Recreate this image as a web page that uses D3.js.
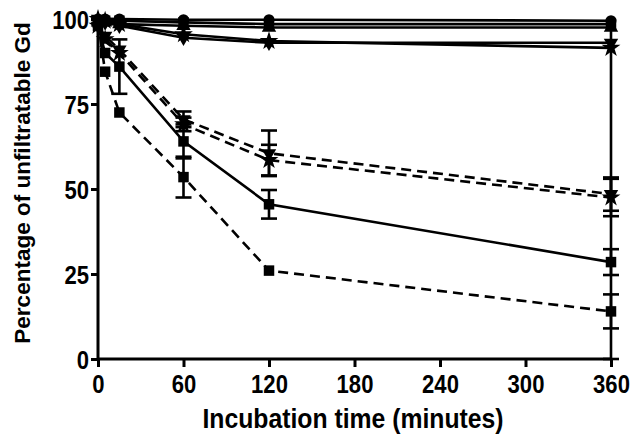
<!DOCTYPE html>
<html><head><meta charset="utf-8">
<script src="https://cdn.jsdelivr.net/npm/d3@7"></script>
<style>body{margin:0;background:#fff}svg{display:block}</style>
</head><body>
<script>
const times = [0, 5, 15, 60, 120, 360];
const xTicks = [0, 60, 120, 180, 240, 300, 360];
const yTicks = [0, 25, 50, 75, 100];

const circleSolid   = [100, 100, 100, 99.8, 99.8, 99.5];
const squareSolidHi = [99, 99.5, 99.5, 99, 98.5, 98.5];
const triUpSolid    = [99, 99, 98.5, 98, 97.5, 97.5];
const triDownSolid  = [100, 99, 98, 94.5, 93, 93];
const starSolid     = [100, 99.5, 98.5, 95.5, 93.5, 91.5];
const triDownDash   = [98, 95, 91, 70.5, 60.5, 48.5];
const starDash      = [98, 94, 90, 69, 58.5, 47.5];
const squareSolidLo = [98, 90, 86, 64, 45.5, 28.5];
const squareDash    = [99, 84.5, 72.5, 53.5, 26, 14];

const errTriDownDash   = [0, 0, 0, 2.3, 6.7, 4.9];
const errStarDash      = [0, 0, 0, 2, 4.5, 5.5];
const errSquareSolidLo = [0, 0, 8, 5, 4.2, 3.8];
const errSquareDash    = [0, 0, 0, 6, 0, 5];
const errStarSolid     = [0, 0, 0, 0, 0, 91.5];

const series = [
  {v: circleSolid, e: null, sym: "circle", dash: false},
  {v: squareSolidHi, e: null, sym: "square", dash: false},
  {v: triUpSolid, e: null, sym: "triUp", dash: false},
  {v: triDownSolid, e: null, sym: "triDown", dash: false},
  {v: starSolid, e: errStarSolid, sym: "star", dash: false},
  {v: triDownDash, e: errTriDownDash, sym: "triDown", dash: true},
  {v: starDash, e: errStarDash, sym: "star", dash: true},
  {v: squareSolidLo, e: errSquareSolidLo, sym: "square", dash: false},
  {v: squareDash, e: errSquareDash, sym: "square", dash: true}
];

const W = 639, H = 447;
const svg = d3.select("body").append("svg").attr("width", W).attr("height", H);
const x = d3.scaleLinear().domain([0, 360]).range([98, 611]);
const y = d3.scaleLinear().domain([0, 100]).range([359, 19]);
const font = "'Liberation Sans', Arial, sans-serif";
const SX = 0.96, SY = 1.1;

// axes
const xAxis = svg.append("g").attr("transform", `translate(0,${y(0)})`)
  .call(d3.axisBottom(x).tickValues(xTicks).tickSize(8).tickSizeOuter(0));
const yAxis = svg.append("g").attr("transform", `translate(${x(0)},0)`)
  .call(d3.axisLeft(y).tickValues(yTicks).tickSize(7).tickSizeOuter(0));
[xAxis, yAxis].forEach(g => {
  g.selectAll("path, line").attr("stroke", "#000").attr("stroke-width", 3);
  g.selectAll("text").attr("fill", "#000").attr("font-family", font)
    .attr("font-weight", "bold").attr("font-size", 23)
    .attr("transform", `scale(${SX},${SY})`);
});
xAxis.select(".domain").attr("d", `M${x(0)},0H${x(360)}`);
yAxis.select(".domain").attr("d", `M0,${y(0)}V${y(100)}`);
xAxis.selectAll("text").attr("x", 0).attr("y", 16 / SY).attr("dy", "0.72em");
yAxis.selectAll("text").attr("x", -9 / SX).attr("y", 0).attr("dy", "0.36em");

svg.append("text").attr("transform", `translate(353,428) scale(0.99,1.1)`).attr("text-anchor", "middle")
  .attr("font-family", font).attr("font-weight", "bold").attr("font-size", 25)
  .text("Incubation time (minutes)");
svg.append("text").attr("transform", `translate(30,${(y(0)+y(100))/2 - 6}) rotate(-90)`)
  .attr("text-anchor", "middle").attr("font-family", font).attr("font-weight", "bold")
  .attr("font-size", 22.5).text("Percentage of unfiltratable Gd");

const line = d3.line().x(d => x(d[0])).y(d => y(d[1]));
const symbols = {
  circle: d3.symbol(d3.symbolCircle, 95),
  square: d3.symbol(d3.symbolSquare, 110),
  triUp: d3.symbol(d3.symbolTriangle, 90),
  triDown: d3.symbol(d3.symbolTriangle, 90),
  star: d3.symbol(d3.symbolStar, 110)
};

const plot = svg.append("g");
series.forEach(s => {
  const pts = times.map((t, i) => [t, s.v[i]]);
  plot.append("path").attr("d", line(pts)).attr("fill", "none").attr("stroke", "#000")
    .attr("stroke-width", 2.6).attr("stroke-dasharray", s.dash ? "10,6" : null);
  if (s.e) {
    times.forEach((t, i) => {
      const e = s.e[i];
      if (!e) return;
      const lo = Math.max(0, s.v[i] - e), hi = Math.min(100, s.v[i] + e);
      plot.append("line").attr("x1", x(t)).attr("x2", x(t)).attr("y1", y(lo)).attr("y2", y(hi))
        .attr("stroke", "#000").attr("stroke-width", 2.6);
      [[lo, s.v[i] - e], [hi, s.v[i] + e]].forEach(([c, raw]) => {
        if (c !== raw) return;
        plot.append("line").attr("x1", x(t) - 8).attr("x2", x(t) + 8).attr("y1", y(c)).attr("y2", y(c))
          .attr("stroke", "#000").attr("stroke-width", 2.6);
      });
    });
  }
  pts.forEach(p => {
    plot.append("path").attr("d", symbols[s.sym]())
      .attr("transform", `translate(${x(p[0])},${y(p[1])})${s.sym === "triDown" ? " rotate(180)" : ""}`)
      .attr("fill", "#000");
  });
});
</script>
</body></html>
